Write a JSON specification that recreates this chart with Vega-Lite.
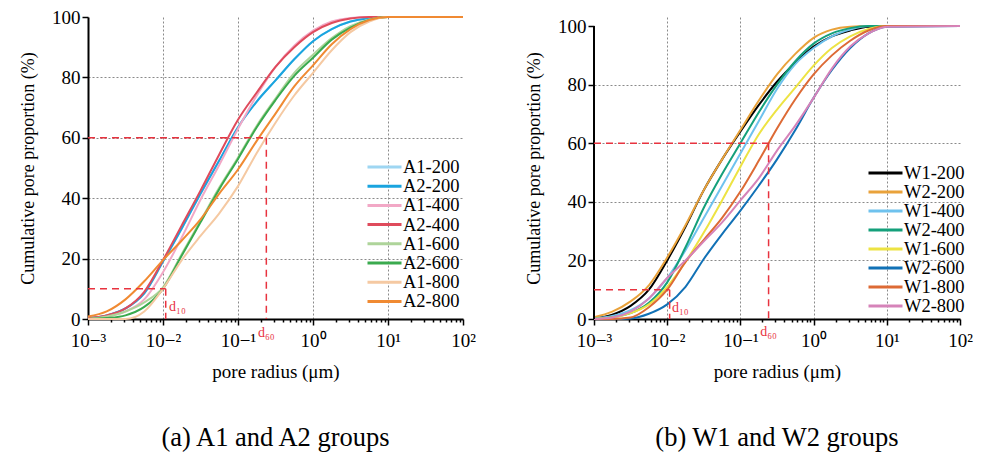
{
  "$schema": "https://vega.github.io/schema/vega-lite/v6.json",
  "background": "white",
  "padding": {"left": 19, "top": 8, "right": 3, "bottom": 3},
  "config": {
    "font": "Liberation Serif",
    "view": {"stroke": null},
    "concat": {"spacing": 49},
    "axis": {
      "domainColor": "black", "domainWidth": 2, "tickColor": "black", "tickWidth": 1.5,
      "labelFont": "Liberation Serif", "labelFontSize": 19, "labelColor": "black",
      "titleFont": "Liberation Serif", "titleFontSize": 18, "titleFontWeight": "normal", "titleColor": "black",
      "gridDash": [2, 2], "gridColor": "#8a8a8a", "gridWidth": 1
    },
    "axisX": {"titleFontSize": 19},
    "legend": {
      "labelFont": "Liberation Serif", "labelFontSize": 18.5, "labelColor": "black"
    }
  },
  "datasets": {
    "A": [
      {"s":"A1-200","r":0.001,"p":0.3},{"s":"A1-200","r":0.001778,"p":1.2},{"s":"A1-200","r":0.003162,"p":3.5},{"s":"A1-200","r":0.005623,"p":8.5},{"s":"A1-200","r":0.01,"p":19},{"s":"A1-200","r":0.01778,"p":30},{"s":"A1-200","r":0.03162,"p":41.5},{"s":"A1-200","r":0.05623,"p":52.5},{"s":"A1-200","r":0.1,"p":63.5},{"s":"A1-200","r":0.1778,"p":72},{"s":"A1-200","r":0.3162,"p":79},{"s":"A1-200","r":0.5623,"p":86},{"s":"A1-200","r":1,"p":92},{"s":"A1-200","r":1.778,"p":96},{"s":"A1-200","r":3.162,"p":98.5},{"s":"A1-200","r":5.623,"p":99.6},{"s":"A1-200","r":10,"p":100},{"s":"A1-200","r":100,"p":100},
      {"s":"A2-200","r":0.001,"p":0.3},{"s":"A2-200","r":0.001778,"p":1.2},{"s":"A2-200","r":0.003162,"p":3.5},{"s":"A2-200","r":0.005623,"p":8.5},{"s":"A2-200","r":0.01,"p":19},{"s":"A2-200","r":0.01778,"p":30},{"s":"A2-200","r":0.03162,"p":41.5},{"s":"A2-200","r":0.05623,"p":52.5},{"s":"A2-200","r":0.1,"p":63.5},{"s":"A2-200","r":0.1778,"p":72},{"s":"A2-200","r":0.3162,"p":79},{"s":"A2-200","r":0.5623,"p":86},{"s":"A2-200","r":1,"p":92},{"s":"A2-200","r":1.778,"p":96},{"s":"A2-200","r":3.162,"p":98.5},{"s":"A2-200","r":5.623,"p":99.6},{"s":"A2-200","r":10,"p":100},{"s":"A2-200","r":100,"p":100},
      {"s":"A1-400","r":0.001,"p":0.2},{"s":"A1-400","r":0.001778,"p":0.8},{"s":"A1-400","r":0.003162,"p":2.5},{"s":"A1-400","r":0.005623,"p":6.5},{"s":"A1-400","r":0.01,"p":15.5},{"s":"A1-400","r":0.01778,"p":27},{"s":"A1-400","r":0.03162,"p":39.5},{"s":"A1-400","r":0.05623,"p":51},{"s":"A1-400","r":0.1,"p":63},{"s":"A1-400","r":0.1778,"p":74},{"s":"A1-400","r":0.3162,"p":83.5},{"s":"A1-400","r":0.5623,"p":90.5},{"s":"A1-400","r":1,"p":95.5},{"s":"A1-400","r":1.778,"p":98.5},{"s":"A1-400","r":3.162,"p":99.7},{"s":"A1-400","r":5.623,"p":100},{"s":"A1-400","r":10,"p":100},{"s":"A1-400","r":100,"p":100},
      {"s":"A2-400","r":0.001,"p":0.3},{"s":"A2-400","r":0.001778,"p":1.2},{"s":"A2-400","r":0.003162,"p":3.5},{"s":"A2-400","r":0.005623,"p":9},{"s":"A2-400","r":0.01,"p":19.5},{"s":"A2-400","r":0.01778,"p":31},{"s":"A2-400","r":0.03162,"p":42.5},{"s":"A2-400","r":0.05623,"p":54.5},{"s":"A2-400","r":0.1,"p":66},{"s":"A2-400","r":0.1778,"p":75},{"s":"A2-400","r":0.3162,"p":83.5},{"s":"A2-400","r":0.5623,"p":90},{"s":"A2-400","r":1,"p":95},{"s":"A2-400","r":1.778,"p":98},{"s":"A2-400","r":3.162,"p":99.5},{"s":"A2-400","r":5.623,"p":100},{"s":"A2-400","r":10,"p":100},{"s":"A2-400","r":100,"p":100},
      {"s":"A1-600","r":0.001,"p":0},{"s":"A1-600","r":0.001778,"p":0.8},{"s":"A1-600","r":0.003162,"p":2.5},{"s":"A1-600","r":0.005623,"p":5.5},{"s":"A1-600","r":0.01,"p":10.5},{"s":"A1-600","r":0.01778,"p":21.5},{"s":"A1-600","r":0.03162,"p":32.5},{"s":"A1-600","r":0.05623,"p":43.5},{"s":"A1-600","r":0.1,"p":53.5},{"s":"A1-600","r":0.1778,"p":64},{"s":"A1-600","r":0.3162,"p":73},{"s":"A1-600","r":0.5623,"p":81.5},{"s":"A1-600","r":1,"p":87.5},{"s":"A1-600","r":1.778,"p":93},{"s":"A1-600","r":3.162,"p":97},{"s":"A1-600","r":5.623,"p":99.2},{"s":"A1-600","r":10,"p":100},{"s":"A1-600","r":100,"p":100},
      {"s":"A2-600","r":0.001,"p":0},{"s":"A2-600","r":0.001778,"p":0.3},{"s":"A2-600","r":0.003162,"p":1.2},{"s":"A2-600","r":0.005623,"p":4},{"s":"A2-600","r":0.01,"p":10},{"s":"A2-600","r":0.01778,"p":21},{"s":"A2-600","r":0.03162,"p":32},{"s":"A2-600","r":0.05623,"p":43},{"s":"A2-600","r":0.1,"p":53},{"s":"A2-600","r":0.1778,"p":63.5},{"s":"A2-600","r":0.3162,"p":72.5},{"s":"A2-600","r":0.5623,"p":80.5},{"s":"A2-600","r":1,"p":86.5},{"s":"A2-600","r":1.778,"p":92.5},{"s":"A2-600","r":3.162,"p":96.5},{"s":"A2-600","r":5.623,"p":99},{"s":"A2-600","r":10,"p":100},{"s":"A2-600","r":100,"p":100},
      {"s":"A1-800","r":0.001,"p":0},{"s":"A1-800","r":0.001778,"p":0},{"s":"A1-800","r":0.003162,"p":0},{"s":"A1-800","r":0.005623,"p":2.5},{"s":"A1-800","r":0.01,"p":10},{"s":"A1-800","r":0.01778,"p":19.5},{"s":"A1-800","r":0.03162,"p":27.5},{"s":"A1-800","r":0.05623,"p":35},{"s":"A1-800","r":0.1,"p":44},{"s":"A1-800","r":0.1778,"p":55},{"s":"A1-800","r":0.3162,"p":65},{"s":"A1-800","r":0.5623,"p":74},{"s":"A1-800","r":1,"p":81.5},{"s":"A1-800","r":1.778,"p":89},{"s":"A1-800","r":3.162,"p":95},{"s":"A1-800","r":5.623,"p":98.5},{"s":"A1-800","r":10,"p":100},{"s":"A1-800","r":100,"p":100},
      {"s":"A2-800","r":0.001,"p":0.8},{"s":"A2-800","r":0.001778,"p":2.5},{"s":"A2-800","r":0.003162,"p":6.5},{"s":"A2-800","r":0.005623,"p":12.5},{"s":"A2-800","r":0.01,"p":19.5},{"s":"A2-800","r":0.01778,"p":26},{"s":"A2-800","r":0.03162,"p":33},{"s":"A2-800","r":0.05623,"p":41.5},{"s":"A2-800","r":0.1,"p":49.5},{"s":"A2-800","r":0.1778,"p":59},{"s":"A2-800","r":0.3162,"p":68},{"s":"A2-800","r":0.5623,"p":77},{"s":"A2-800","r":1,"p":84},{"s":"A2-800","r":1.778,"p":91},{"s":"A2-800","r":3.162,"p":96},{"s":"A2-800","r":5.623,"p":99},{"s":"A2-800","r":10,"p":100},{"s":"A2-800","r":100,"p":100}
    ],
    "W": [
      {"s":"W1-200","r":0.001,"p":0.3},{"s":"W1-200","r":0.001778,"p":1.5},{"s":"W1-200","r":0.003162,"p":4.5},{"s":"W1-200","r":0.005623,"p":10},{"s":"W1-200","r":0.01,"p":20},{"s":"W1-200","r":0.01778,"p":31.5},{"s":"W1-200","r":0.03162,"p":44},{"s":"W1-200","r":0.05623,"p":54.5},{"s":"W1-200","r":0.1,"p":64},{"s":"W1-200","r":0.1778,"p":73},{"s":"W1-200","r":0.3162,"p":81},{"s":"W1-200","r":0.5623,"p":87.5},{"s":"W1-200","r":1,"p":93},{"s":"W1-200","r":1.778,"p":96.5},{"s":"W1-200","r":3.162,"p":98.5},{"s":"W1-200","r":5.623,"p":99.8},{"s":"W1-200","r":10,"p":100},{"s":"W1-200","r":100,"p":100},
      {"s":"W2-200","r":0.001,"p":0.6},{"s":"W2-200","r":0.001778,"p":2.5},{"s":"W2-200","r":0.003162,"p":6},{"s":"W2-200","r":0.005623,"p":11.5},{"s":"W2-200","r":0.01,"p":21},{"s":"W2-200","r":0.01778,"p":32},{"s":"W2-200","r":0.03162,"p":44},{"s":"W2-200","r":0.05623,"p":54.5},{"s":"W2-200","r":0.1,"p":64.5},{"s":"W2-200","r":0.1778,"p":74.5},{"s":"W2-200","r":0.3162,"p":83.5},{"s":"W2-200","r":0.5623,"p":90.5},{"s":"W2-200","r":1,"p":96},{"s":"W2-200","r":1.778,"p":98.8},{"s":"W2-200","r":3.162,"p":99.8},{"s":"W2-200","r":5.623,"p":100},{"s":"W2-200","r":10,"p":100},{"s":"W2-200","r":100,"p":100},
      {"s":"W1-400","r":0.001,"p":0.2},{"s":"W1-400","r":0.001778,"p":1},{"s":"W1-400","r":0.003162,"p":3},{"s":"W1-400","r":0.005623,"p":7},{"s":"W1-400","r":0.01,"p":14},{"s":"W1-400","r":0.01778,"p":23.5},{"s":"W1-400","r":0.03162,"p":34.5},{"s":"W1-400","r":0.05623,"p":45.5},{"s":"W1-400","r":0.1,"p":56.5},{"s":"W1-400","r":0.1778,"p":67.5},{"s":"W1-400","r":0.3162,"p":78.5},{"s":"W1-400","r":0.5623,"p":87},{"s":"W1-400","r":1,"p":92.5},{"s":"W1-400","r":1.778,"p":96.5},{"s":"W1-400","r":3.162,"p":98.8},{"s":"W1-400","r":5.623,"p":100},{"s":"W1-400","r":10,"p":100},{"s":"W1-400","r":100,"p":100},
      {"s":"W2-400","r":0.001,"p":0.1},{"s":"W2-400","r":0.001778,"p":0.6},{"s":"W2-400","r":0.003162,"p":2},{"s":"W2-400","r":0.005623,"p":5.5},{"s":"W2-400","r":0.01,"p":12.5},{"s":"W2-400","r":0.01778,"p":24.5},{"s":"W2-400","r":0.03162,"p":38},{"s":"W2-400","r":0.05623,"p":49.5},{"s":"W2-400","r":0.1,"p":60},{"s":"W2-400","r":0.1778,"p":70.5},{"s":"W2-400","r":0.3162,"p":80},{"s":"W2-400","r":0.5623,"p":88},{"s":"W2-400","r":1,"p":94},{"s":"W2-400","r":1.778,"p":97.5},{"s":"W2-400","r":3.162,"p":99.3},{"s":"W2-400","r":5.623,"p":100},{"s":"W2-400","r":10,"p":100},{"s":"W2-400","r":100,"p":100},
      {"s":"W1-600","r":0.001,"p":0.1},{"s":"W1-600","r":0.001778,"p":0.5},{"s":"W1-600","r":0.003162,"p":2},{"s":"W1-600","r":0.005623,"p":5},{"s":"W1-600","r":0.01,"p":11},{"s":"W1-600","r":0.01778,"p":19.5},{"s":"W1-600","r":0.03162,"p":29.5},{"s":"W1-600","r":0.05623,"p":40.5},{"s":"W1-600","r":0.1,"p":52},{"s":"W1-600","r":0.1778,"p":63},{"s":"W1-600","r":0.3162,"p":71.5},{"s":"W1-600","r":0.5623,"p":79},{"s":"W1-600","r":1,"p":86.5},{"s":"W1-600","r":1.778,"p":92.5},{"s":"W1-600","r":3.162,"p":96.5},{"s":"W1-600","r":5.623,"p":99},{"s":"W1-600","r":10,"p":100},{"s":"W1-600","r":100,"p":100},
      {"s":"W2-600","r":0.001,"p":0},{"s":"W2-600","r":0.001778,"p":0},{"s":"W2-600","r":0.003162,"p":0.2},{"s":"W2-600","r":0.005623,"p":1.8},{"s":"W2-600","r":0.01,"p":5},{"s":"W2-600","r":0.01778,"p":11},{"s":"W2-600","r":0.03162,"p":20.5},{"s":"W2-600","r":0.05623,"p":29},{"s":"W2-600","r":0.1,"p":37},{"s":"W2-600","r":0.1778,"p":45.5},{"s":"W2-600","r":0.3162,"p":54.5},{"s":"W2-600","r":0.5623,"p":64.5},{"s":"W2-600","r":1,"p":75.5},{"s":"W2-600","r":1.778,"p":85},{"s":"W2-600","r":3.162,"p":92.5},{"s":"W2-600","r":5.623,"p":97.5},{"s":"W2-600","r":10,"p":99.8},{"s":"W2-600","r":100,"p":100},
      {"s":"W1-800","r":0.001,"p":0},{"s":"W1-800","r":0.001778,"p":0},{"s":"W1-800","r":0.003162,"p":0.5},{"s":"W1-800","r":0.005623,"p":4},{"s":"W1-800","r":0.01,"p":10},{"s":"W1-800","r":0.01778,"p":19.5},{"s":"W1-800","r":0.03162,"p":27},{"s":"W1-800","r":0.05623,"p":34.5},{"s":"W1-800","r":0.1,"p":43.5},{"s":"W1-800","r":0.1778,"p":54},{"s":"W1-800","r":0.3162,"p":65},{"s":"W1-800","r":0.5623,"p":75},{"s":"W1-800","r":1,"p":83.5},{"s":"W1-800","r":1.778,"p":90},{"s":"W1-800","r":3.162,"p":95},{"s":"W1-800","r":5.623,"p":98.5},{"s":"W1-800","r":10,"p":100},{"s":"W1-800","r":100,"p":100},
      {"s":"W2-800","r":0.001,"p":0},{"s":"W2-800","r":0.001778,"p":0.5},{"s":"W2-800","r":0.003162,"p":2.5},{"s":"W2-800","r":0.005623,"p":7},{"s":"W2-800","r":0.01,"p":14},{"s":"W2-800","r":0.01778,"p":20},{"s":"W2-800","r":0.03162,"p":26.5},{"s":"W2-800","r":0.05623,"p":33},{"s":"W2-800","r":0.1,"p":40.5},{"s":"W2-800","r":0.1778,"p":48},{"s":"W2-800","r":0.3162,"p":57.5},{"s":"W2-800","r":0.5623,"p":66},{"s":"W2-800","r":1,"p":75.5},{"s":"W2-800","r":1.778,"p":85.5},{"s":"W2-800","r":3.162,"p":93},{"s":"W2-800","r":5.623,"p":97.5},{"s":"W2-800","r":10,"p":99.8},{"s":"W2-800","r":100,"p":100}
    ],
    "rA": [
      {"x":0.001,"x2":0.01087,"y":10,"y2":10},{"x":0.01087,"x2":0.01087,"y":10,"y2":0},
      {"x":0.001,"x2":0.2387,"y":60,"y2":60},{"x":0.2387,"x2":0.2387,"y":60,"y2":0}
    ],
    "rW": [
      {"x":0.001,"x2":0.0108,"y":10,"y2":10},{"x":0.0108,"x2":0.0108,"y":10,"y2":0},
      {"x":0.001,"x2":0.2427,"y":60,"y2":60},{"x":0.2427,"x2":0.2427,"y":60,"y2":0}
    ],
    "tA": [{"x":0.0156,"y":4,"t":"d₁₀"},{"x":0.2387,"y":-4.5,"t":"d₆₀"}],
    "tW": [{"x":0.0151,"y":3.6,"t":"d₁₀"},{"x":0.2427,"y":-4.5,"t":"d₆₀"}]
  },
  "resolve": {"scale": {"color": "independent"}, "legend": {"color": "independent"}},
  "hconcat": [
    {
      "width": 375, "height": 302,
      "title": {"text": "(a) A1 and A2 groups", "orient": "bottom", "fontSize": 26.5, "fontWeight": "normal", "font": "Liberation Serif", "offset": 44, "anchor": "middle", "color": "black"},
      "layer": [
        {
          "data": {"name": "A"},
          "mark": {"type": "line", "interpolate": "monotone", "strokeWidth": 2},
          "encoding": {
            "x": {"field": "r", "type": "quantitative", "title": "pore radius (μm)",
              "scale": {"type": "log", "domain": [0.001, 100], "nice": false},
              "axis": {
                "values": [0.001,0.002,0.003,0.004,0.005,0.006,0.007,0.008,0.009,0.01,0.02,0.03,0.04,0.05,0.06,0.07,0.08,0.09,0.1,0.2,0.3,0.4,0.5,0.6,0.7,0.8,0.9,1,2,3,4,5,6,7,8,9,10,20,30,40,50,60,70,80,90,100],
                "labelExpr": "abs(log(datum.value)/LN10 - round(log(datum.value)/LN10)) < 0.001 ? '10' + replace(replace(replace(replace(replace(format(round(log(datum.value)/LN10), 'd'), '-', '⁻'), '0', '⁰'), '1', '¹'), '2', '²'), '3', '³') : ''",
                "labelFlush": false, "labelOverlap": false, "labelPadding": 6, "titlePadding": 12,
                "tickSize": {"condition": {"test": "abs(log(datum.value)/LN10 - round(log(datum.value)/LN10)) < 0.001", "value": 6}, "value": 3},
                "grid": true,
                "gridOpacity": {"condition": {"test": "abs(log(datum.value)/LN10 - round(log(datum.value)/LN10)) < 0.001 && datum.value > 0.002 && datum.value < 50", "value": 1}, "value": 0}
              }
            },
            "y": {"field": "p", "type": "quantitative", "title": "Cumulative pore proportion (%)",
              "scale": {"domain": [0, 100], "nice": false},
              "axis": {
                "values": [0,10,20,30,40,50,60,70,80,90,100],
                "labelExpr": "datum.value % 20 == 0 ? datum.label : ''",
                "labelOverlap": false, "labelPadding": 2, "titlePadding": 14,
                "tickSize": {"condition": {"test": "datum.value % 20 == 0", "value": 6}, "value": 3},
                "grid": true,
                "gridOpacity": {"condition": {"test": "datum.value % 20 == 0 && datum.value > 0 && datum.value < 100", "value": 1}, "value": 0}
              }
            },
            "color": {"field": "s", "type": "nominal",
              "scale": {"domain": ["A1-200","A2-200","A1-400","A2-400","A1-600","A2-600","A1-800","A2-800"],
                        "range": ["#9ed6f2","#1aa4df","#f2a8c6","#df4b5c","#aed49a","#3aaa4e","#f5c9a2","#f08a32"]},
              "legend": {"orient": "none", "legendX": 278, "legendY": 140.5, "title": null, "symbolType": "stroke", "symbolSize": 1156, "symbolStrokeWidth": 3, "clipHeight": 19, "rowPadding": 0.2, "labelOffset": 0, "labelLimit": 200}
            }
          }
        },
        {
          "data": {"name": "rA"},
          "mark": {"type": "rule", "color": "#e8333f", "strokeDash": [7, 5], "strokeWidth": 1.5},
          "encoding": {
            "x": {"field": "x", "type": "quantitative", "title": "pore radius (μm)"},
            "x2": {"field": "x2"},
            "y": {"field": "y", "type": "quantitative", "title": "Cumulative pore proportion (%)"},
            "y2": {"field": "y2"}
          }
        },
        {
          "data": {"name": "tA"},
          "mark": {"type": "text", "color": "#e8333f", "fontSize": 14, "align": "center", "baseline": "middle", "font": "Liberation Serif"},
          "encoding": {
            "x": {"field": "x", "type": "quantitative", "title": "pore radius (μm)"},
            "y": {"field": "y", "type": "quantitative", "title": "Cumulative pore proportion (%)"},
            "text": {"field": "t"}
          }
        }
      ]
    },
    {
      "width": 366, "height": 302,
      "title": {"text": "(b) W1 and W2 groups", "orient": "bottom", "fontSize": 26.5, "fontWeight": "normal", "font": "Liberation Serif", "offset": 44, "anchor": "middle", "color": "black"},
      "layer": [
        {
          "data": {"name": "W"},
          "mark": {"type": "line", "interpolate": "monotone", "strokeWidth": 2},
          "encoding": {
            "x": {"field": "r", "type": "quantitative", "title": "pore radius (μm)",
              "scale": {"type": "log", "domain": [0.001, 100], "nice": false},
              "axis": {
                "values": [0.001,0.002,0.003,0.004,0.005,0.006,0.007,0.008,0.009,0.01,0.02,0.03,0.04,0.05,0.06,0.07,0.08,0.09,0.1,0.2,0.3,0.4,0.5,0.6,0.7,0.8,0.9,1,2,3,4,5,6,7,8,9,10,20,30,40,50,60,70,80,90,100],
                "labelExpr": "abs(log(datum.value)/LN10 - round(log(datum.value)/LN10)) < 0.001 ? '10' + replace(replace(replace(replace(replace(format(round(log(datum.value)/LN10), 'd'), '-', '⁻'), '0', '⁰'), '1', '¹'), '2', '²'), '3', '³') : ''",
                "labelFlush": false, "labelOverlap": false, "labelPadding": 6, "titlePadding": 12,
                "tickSize": {"condition": {"test": "abs(log(datum.value)/LN10 - round(log(datum.value)/LN10)) < 0.001", "value": 6}, "value": 3},
                "grid": true,
                "gridOpacity": {"condition": {"test": "abs(log(datum.value)/LN10 - round(log(datum.value)/LN10)) < 0.001 && datum.value > 0.002 && datum.value < 50", "value": 1}, "value": 0}
              }
            },
            "y": {"field": "p", "type": "quantitative", "title": "Cumulative pore proportion (%)",
              "scale": {"domain": [0, 103.1], "nice": false},
              "axis": {
                "values": [0,10,20,30,40,50,60,70,80,90,100],
                "domain": false,
                "labelExpr": "datum.value % 20 == 0 ? datum.label : ''",
                "labelOverlap": false, "labelPadding": 2, "titlePadding": 14,
                "tickSize": {"condition": {"test": "datum.value % 20 == 0", "value": 6}, "value": 3},
                "grid": true,
                "gridOpacity": {"condition": {"test": "datum.value % 20 == 0 && datum.value > 0 && datum.value < 100", "value": 1}, "value": 0}
              }
            },
            "color": {"field": "s", "type": "nominal",
              "scale": {"domain": ["W1-200","W2-200","W1-400","W2-400","W1-600","W2-600","W1-800","W2-800"],
                        "range": ["#000000","#e9a23b","#6fc2ee","#14a07b","#ede343","#1171b6","#dd6a35","#d683b9"]},
              "legend": {"orient": "none", "legendX": 273, "legendY": 146.5, "title": null, "symbolType": "stroke", "symbolSize": 1156, "symbolStrokeWidth": 3, "clipHeight": 18.8, "rowPadding": 0, "labelOffset": 0, "labelLimit": 200}
            }
          }
        },
        {
          "data": {"values": [{}]},
          "mark": {"type": "rule", "color": "black", "strokeWidth": 2},
          "encoding": {
            "x": {"datum": 0.001, "type": "quantitative"},
            "y": {"datum": 0, "type": "quantitative"},
            "y2": {"datum": 100}
          }
        },
        {
          "data": {"name": "rW"},
          "mark": {"type": "rule", "color": "#e8333f", "strokeDash": [7, 5], "strokeWidth": 1.5},
          "encoding": {
            "x": {"field": "x", "type": "quantitative", "title": "pore radius (μm)"},
            "x2": {"field": "x2"},
            "y": {"field": "y", "type": "quantitative", "title": "Cumulative pore proportion (%)"},
            "y2": {"field": "y2"}
          }
        },
        {
          "data": {"name": "tW"},
          "mark": {"type": "text", "color": "#e8333f", "fontSize": 14, "align": "center", "baseline": "middle", "font": "Liberation Serif"},
          "encoding": {
            "x": {"field": "x", "type": "quantitative", "title": "pore radius (μm)"},
            "y": {"field": "y", "type": "quantitative", "title": "Cumulative pore proportion (%)"},
            "text": {"field": "t"}
          }
        }
      ]
    }
  ]
}
